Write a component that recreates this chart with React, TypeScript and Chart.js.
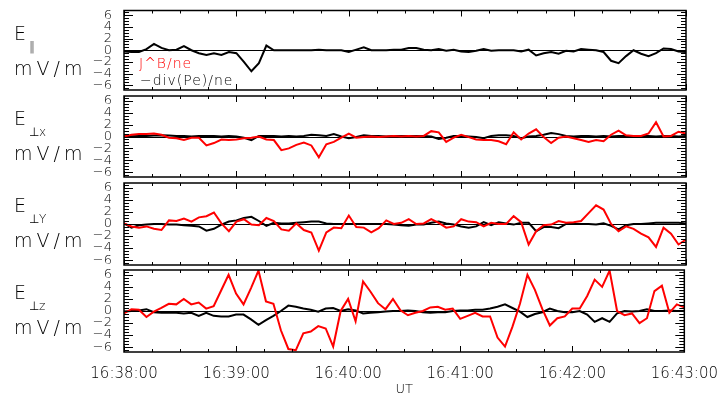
import React, { useEffect, useRef } from 'react';
import { Chart, registerables } from 'chart.js';

Chart.register(...registerables);

// Canvas / plot geometry
const W = 723;
const H = 401;
const PLOT_LEFT = 124;
const PLOT_RIGHT = 686;
const PANEL_TOPS = [9, 96, 183, 270];
const PANEL_BOTTOMS = [90, 177, 265, 352];
const Y_LIMIT = 6.8;
const FONT = '"DejaVu Sans", sans-serif';
const TEXT_WEIGHT = 200;
const RED = '#ff0000';

// Time base: samples every 4 s starting 16:38:00 UT
const startHour = 16;
const startMinute = 38;
const cadenceSeconds = 4;
const spanSeconds = 300;
const timeTickSeconds = [0, 60, 120, 180, 240, 300];
const yTickValues = [-6, -4, -2, 0, 2, 4, 6];

// E parallel: -div(Pe)/ne
const eParBlack = [
  -0.2, -0.3, -0.3, 0.2, 1.1, 0.4, 0.0, 0.1, 0.7, 0.0,
  -0.5, -0.8, -0.5, -0.8, -0.3, -0.5, -2.0, -3.6, -2.2, 0.8,
  0.0, 0.0, 0.0, 0.0, 0.0, 0.0, 0.1, 0.0, 0.0, 0.0,
  -0.3, 0.1, 0.5, 0.0, 0.0, 0.0, 0.1, 0.1, 0.4, 0.4,
  0.1, 0.0, 0.2, -0.1, 0.1, -0.2, -0.3, -0.1, 0.2, -0.1,
  0.0, 0.0, 0.0, -0.2, 0.1, -0.9, -0.5, -0.3, -0.6, -0.1,
  -0.2, 0.2, 0.1, 0.0, -0.3, -1.8, -2.2, -1.0, 0.0, -0.6,
  -1.0, -0.5, 0.3, 0.2, -0.2, -0.3,
];

// E perp x
const eXRed = [
  0.0, 0.3, 0.4, 0.4, 0.5, 0.3, -0.2, -0.3, -0.6, -0.2,
  -0.2, -1.5, -1.1, -0.5, -0.6, -0.5, -0.3, -0.2, 0.0, -0.5,
  -0.6, -2.3, -2.0, -1.4, -1.0, -1.5, -3.5, -1.3, -0.9, -0.2,
  0.5, -0.2, -0.1, 0.0, -0.1, 0.0, 0.1, 0.0, 0.1, 0.0,
  0.1, 0.9, 0.7, -0.9, -0.2, 0.3, -0.1, -0.5, -0.6, -0.6,
  -0.8, -1.3, 0.7, -0.5, 0.5, 1.2, -0.1, -1.1, -0.2, 0.0,
  -0.3, -0.6, -0.9, -0.6, -0.8, 0.3, 1.0, 0.2, 0.1, 0.1,
  0.5, 2.4, 0.0, 0.1, 0.8, 0.5,
];
const eXBlack = [
  0.0, 0.05, 0.1, 0.1, 0.15, 0.2, 0.15, 0.1, 0.1, 0.0,
  0.1, 0.1, 0.1, 0.0, 0.1, 0.0, -0.2, -0.6, 0.1, 0.1,
  0.1, 0.0, 0.1, 0.0, 0.1, 0.3, 0.2, 0.1, 0.4, 0.0,
  -0.3, -0.1, 0.2, 0.1, 0.1, 0.0, 0.1, 0.1, 0.1, 0.1,
  0.1, 0.0, -0.4, -0.2, 0.1, 0.1, 0.0, -0.1, -0.3, 0.1,
  0.2, 0.2, 0.1, -0.3, 0.0, 0.1, 0.3, 0.6, 0.4, 0.1,
  0.0, 0.1, 0.1, 0.0, 0.1, 0.0, 0.1, 0.1, 0.0, 0.1,
  0.1, 0.0, 0.1, 0.1, 0.0, 0.1,
];

// E perp y
const eYRed = [
  0.1, -0.4, -0.6, -0.4, -0.8, -1.0, 0.6, 0.5, 0.9, 0.4,
  1.1, 1.3, 1.9, 0.1, -1.2, 0.4, 0.8, -0.1, -0.2, 1.0,
  0.5, -0.9, -1.1, 0.1, -1.0, -1.4, -4.4, -1.4, -0.6, -0.7,
  1.4, -0.5, -0.6, -1.4, -0.7, 0.6, 0.0, 0.2, 0.8, 0.0,
  0.1, 0.8, 0.2, -0.6, -0.4, 0.8, 0.4, 0.3, -0.4, 0.2,
  0.0, 0.0, 1.3, 0.3, -3.4, -1.2, -0.2, -0.1, 0.5, 0.2,
  0.3, 0.5, 1.8, 3.1, 2.4, 0.0, -1.2, -0.4, -0.8, -1.6,
  -2.2, -3.8, -0.6, -1.6, -3.4, -2.6,
];
const eYBlack = [
  0.1, -0.6, -0.2, -0.1, 0.0, 0.0, -0.1, -0.1, -0.2, -0.3,
  -0.4, -1.1, -0.8, -0.1, 0.4, 0.6, 1.0, 1.2, 0.5, -0.3,
  0.2, 0.1, 0.1, 0.2, 0.3, 0.4, 0.4, 0.1, 0.0, 0.0,
  0.0, 0.0, 0.0, 0.0, 0.0, 0.0, -0.1, -0.2, -0.3, -0.1,
  -0.1, 0.2, 0.4, 0.1, -0.1, -0.4, -0.6, -0.4, 0.3, -0.2,
  0.3, 0.1, -0.1, 0.2, 0.2, -1.2, -0.5, -0.5, -0.7, 0.0,
  0.0, 0.0, 0.0, -0.1, 0.1, -0.3, -0.9, -0.2, 0.0, 0.0,
  0.1, 0.2, 0.2, 0.2, 0.2, 0.1,
];

// E perp z
const eZRed = [
  -0.4, 0.3, 0.2, -1.0, -0.1, 0.5, 1.2, 1.1, 2.0, 1.1,
  1.4, 0.4, 0.8, 3.4, 6.0, 2.9, 1.1, 3.8, 6.7, 1.6,
  1.2, -3.2, -6.3, -6.5, -3.7, -3.4, -2.5, -2.9, -5.9, 0.0,
  2.0, -1.7, 4.9, 3.2, 1.3, 0.3, 2.0, 0.1, -0.7, -0.3,
  0.0, 0.6, 0.7, 0.2, 0.4, -1.3, -0.8, -0.3, -0.9, -0.9,
  -4.4, -5.9, -2.6, 1.2, 6.0, 3.5, 0.3, -2.4, -1.2, -0.9,
  0.4, 0.4, 2.5, 5.2, 4.0, 6.7, 0.0, -0.7, -0.4, -2.0,
  -1.2, 3.3, 4.2, -0.3, 1.1, 0.6,
];
const eZBlack = [
  -0.1, 0.0, 0.1, 0.3, -0.2, -0.3, -0.3, -0.3, -0.4, -0.3,
  -0.8, -0.3, -0.8, -0.9, -0.9, -0.6, -0.6, -1.4, -2.3, -1.5,
  -0.8, 0.0, 0.9, 0.7, 0.4, 0.2, -0.1, 0.4, 0.5, 0.0,
  0.3, 0.1, -0.4, -0.3, -0.2, -0.1, 0.0, 0.0, 0.1, 0.0,
  -0.2, -0.3, -0.2, -0.2, 0.0, 0.1, 0.1, 0.2, 0.2, 0.4,
  0.7, 1.1, 0.5, -0.1, -1.0, -0.5, -0.2, 0.4, 0.0, -0.2,
  -0.2, 0.0, -0.6, -1.8, -1.2, -1.8, -0.4, 0.0, -0.1, 0.0,
  0.3, 0.0, 0.0, 0.1, 0.0, 0.0,
];

type PanelDef = { sub: string; red: number[] | null; black: number[]; legend: boolean };

const panels: PanelDef[] = [
  { sub: '\u2016', red: null, black: eParBlack, legend: true },
  { sub: '\u22a5x', red: eXRed, black: eXBlack, legend: false },
  { sub: '\u22a5Y', red: eYRed, black: eYBlack, legend: false },
  { sub: '\u22a5z', red: eZRed, black: eZBlack, legend: false },
];

const pad2 = (n: number) => String(n).padStart(2, '0');
const timeLabel = (sec: number) => {
  const total = startMinute * 60 + sec;
  return `${startHour}:${pad2(Math.floor(total / 60))}:${pad2(total % 60)}`;
};
const yLabel = (v: number) => (v < 0 ? '\u2212' + Math.abs(v) : String(v));
const toPoints = (vals: number[]) => vals.map((v, i) => ({ x: i * cadenceSeconds, y: v }));
const font = (size: number) => `${TEXT_WEIGHT} ${size}px ${FONT}`;

// Frame, zero line, inward ticks and panel annotations
const idlFrame = {
  id: 'idlFrame',
  beforeDatasetsDraw(chart: any) {
    const { ctx, chartArea: a, scales } = chart;
    const y0 = Math.round(scales.y.getPixelForValue(0)) + 0.5;
    ctx.save();
    ctx.strokeStyle = '#000';
    ctx.lineWidth = 1;
    ctx.beginPath();
    ctx.moveTo(a.left, y0);
    ctx.lineTo(a.right, y0);
    ctx.stroke();
    ctx.restore();
  },
  afterDatasetsDraw(chart: any) {
    const { ctx, chartArea: a, scales } = chart;
    const xs = scales.x;
    const ys = scales.y;
    ctx.save();
    ctx.strokeStyle = '#000';
    ctx.lineWidth = 1;
    ctx.beginPath();
    for (let s = 0; s <= spanSeconds; s += 15) {
      const px = Math.round(xs.getPixelForValue(s)) + 0.5;
      const len = s % 60 === 0 ? 6 : 3;
      ctx.moveTo(px, a.top);
      ctx.lineTo(px, a.top + len);
      ctx.moveTo(px, a.bottom);
      ctx.lineTo(px, a.bottom - len);
    }
    for (let k = -13; k <= 13; k++) {
      const v = k / 2;
      const py = Math.round(ys.getPixelForValue(v)) + 0.5;
      const len = k % 4 === 0 ? 9 : 5;
      ctx.moveTo(a.left, py);
      ctx.lineTo(a.left + len, py);
      ctx.moveTo(a.right, py);
      ctx.lineTo(a.right - len, py);
    }
    ctx.stroke();
    ctx.lineWidth = 1.5;
    ctx.strokeRect(a.left, a.top, a.right - a.left, a.bottom - a.top);
    ctx.restore();
  },
  afterDraw(chart: any, _args: any, opts: any) {
    const { ctx, chartArea: a } = chart;
    ctx.save();
    ctx.fillStyle = '#000';
    ctx.textBaseline = 'alphabetic';
    ctx.textAlign = 'left';
    ctx.font = font(19);
    ctx.fillText('E', 14, a.top + 29);
    ctx.font = font(12);
    ctx.fillText(opts.sub, 29, a.top + 40);
    ctx.font = font(19);
    (ctx as any).letterSpacing = '4px';
    ctx.fillText('mV/m', 14, a.top + 64);
    if (opts.legend) {
      ctx.font = font(14);
      (ctx as any).letterSpacing = '1px';
      ctx.fillStyle = RED;
      ctx.fillText('J^B/ne', 139, a.top + 57);
      ctx.fillStyle = '#000';
      ctx.fillText('\u2212div(Pe)/ne', 140, a.top + 74);
    }
    ctx.restore();
  },
};

function Panel({ index }: { index: number }) {
  const ref = useRef<HTMLCanvasElement | null>(null);
  useEffect(() => {
    const def = panels[index];
    const isBottom = index === panels.length - 1;
    const datasets: any[] = [];
    if (def.red) {
      datasets.push({
        label: 'J^B/ne',
        data: toPoints(def.red),
        borderColor: RED,
        borderWidth: 2,
        pointRadius: 0,
        tension: 0,
      });
    }
    datasets.push({
      label: '-div(Pe)/ne',
      data: toPoints(def.black),
      borderColor: '#000',
      borderWidth: 2,
      pointRadius: 0,
      tension: 0,
    });
    const chart = new Chart(ref.current as HTMLCanvasElement, {
      type: 'line',
      data: { datasets },
      plugins: [idlFrame],
      options: {
        animation: false,
        responsive: false,
        devicePixelRatio: 1,
        events: [],
        layout: {
          padding: {
            left: 0,
            right: W - PLOT_RIGHT,
            top: PANEL_TOPS[index],
            bottom: isBottom ? 0 : H - PANEL_BOTTOMS[index],
          },
        },
        plugins: {
          legend: { display: false },
          tooltip: { enabled: false },
          idlFrame: { sub: def.sub, legend: def.legend },
        } as any,
        scales: {
          x: {
            type: 'linear',
            min: 0,
            max: spanSeconds,
            display: isBottom,
            afterBuildTicks: (s: any) => {
              s.ticks = timeTickSeconds.map((v) => ({ value: v }));
            },
            afterFit: (s: any) => {
              s.height = isBottom ? H - PANEL_BOTTOMS[index] : 0;
            },
            grid: { display: false },
            border: { display: false },
            ticks: {
              padding: 5,
              maxRotation: 0,
              autoSkip: false,
              color: '#000',
              font: { family: FONT, size: 15, weight: TEXT_WEIGHT },
              callback: (v: any) => timeLabel(Number(v)),
            },
            title: {
              display: true,
              text: 'UT',
              color: '#000',
              font: { family: FONT, size: 13, weight: TEXT_WEIGHT },
              padding: { top: 0, bottom: 4 },
            },
          },
          y: {
            min: -Y_LIMIT,
            max: Y_LIMIT,
            afterBuildTicks: (s: any) => {
              s.ticks = yTickValues.map((v) => ({ value: v }));
            },
            afterFit: (s: any) => {
              s.width = PLOT_LEFT;
            },
            grid: { display: false },
            border: { display: false },
            ticks: {
              padding: 4,
              autoSkip: false,
              color: '#000',
              font: { family: FONT, size: 13, lineHeight: 1, weight: TEXT_WEIGHT },
              callback: (v: any) => yLabel(Number(v)),
            },
          },
        },
      } as any,
    });
    return () => chart.destroy();
  }, [index]);
  return (
    <canvas
      ref={ref}
      width={W}
      height={H}
      style={{ position: 'absolute', left: 0, top: 0, width: W, height: H }}
    />
  );
}

export default function App() {
  return (
    <div style={{ position: 'fixed', left: 0, top: 0, width: W, height: H, background: '#fff' }}>
      {panels.map((_, i) => (
        <Panel key={i} index={i} />
      ))}
    </div>
  );
}
